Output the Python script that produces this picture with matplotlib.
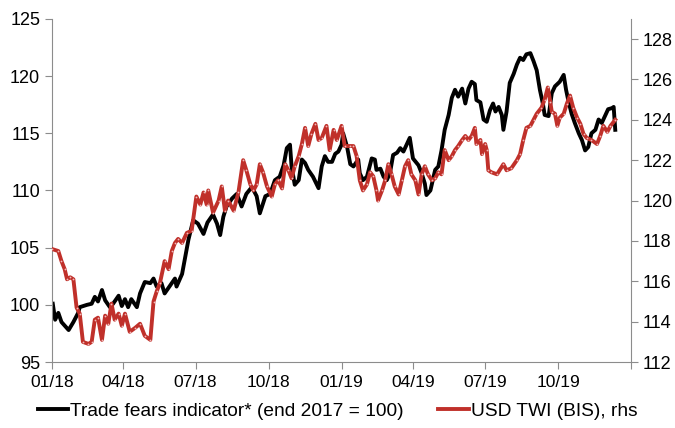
import numpy as np
import pandas as pd
import matplotlib
matplotlib.use("Agg")
import matplotlib.pyplot as plt

plt.rcParams['font.family'] = ['Liberation Sans', 'DejaVu Sans']

start = pd.Timestamp('2018-01-01')

# Trade fears indicator (lhs), days since 01/01/2018
tf_days = [1, 4, 8, 12, 21, 27, 33, 35, 44, 50, 54, 58, 63, 67, 73, 77, 84, 88, 92, 96,
           100, 107, 111, 117, 124, 128, 132, 138, 142, 149, 155, 157, 164, 168, 172, 178,
           184, 191, 196, 203, 208, 212, 216, 220, 227, 233, 239, 245, 252, 258, 262, 269,
           275, 281, 287, 292, 296, 300, 302, 306, 311, 315, 319, 323, 329, 336, 340, 344,
           348, 353, 357, 361, 365, 367, 372, 376, 380, 386, 388, 392, 397, 403, 407, 409,
           414, 418, 422, 426, 430, 435, 439, 443, 447, 451, 455, 462, 466, 470, 472, 477,
           483, 487, 491, 495, 500, 504, 508, 512, 517, 521, 525, 529, 533, 535, 540, 544,
           548, 552, 556, 559, 563, 567, 569, 573, 577, 582, 586, 590, 594, 598, 603, 607,
           611, 615, 619, 621, 626, 630, 634, 640, 645, 648, 651, 655, 659, 664, 668, 672,
           676, 680, 685, 689, 693, 697, 701, 706, 708, 710]
tf_vals = [100.1, 98.7, 99.3, 98.5, 97.8, 98.5, 99.3, 99.8, 100.0, 100.1, 100.7, 100.3,
           101.3, 100.4, 99.8, 100.1, 100.8, 99.9, 100.5, 99.8, 100.5, 99.8, 101.0, 102.0,
           101.9, 102.3, 101.6, 101.9, 101.0, 101.7, 102.3, 101.6, 102.7, 104.2, 105.7,
           107.4, 107.1, 106.2, 107.2, 107.9, 107.1, 106.1, 107.7, 108.6, 109.3, 109.7,
           108.6, 109.7, 110.3, 109.5, 108.0, 109.5, 109.7, 110.9, 111.2, 112.2, 113.7,
           114.0, 112.1, 110.5, 110.9, 112.7, 112.4, 111.8, 111.2, 110.2, 112.1, 113.0,
           112.5, 112.5, 113.2, 113.4, 114.0, 115.0, 113.8, 112.3, 112.1, 112.7, 111.5,
           110.9, 111.2, 112.8, 112.7, 111.8, 111.9, 111.2, 110.9, 111.5, 113.1, 113.3,
           113.7, 113.4, 114.0, 114.6, 112.8, 112.2, 111.5, 110.6, 109.6, 110.0, 111.8,
           112.1, 113.5, 115.3, 116.6, 118.1, 118.8, 118.2, 118.9, 117.6, 118.9, 119.5,
           119.3, 117.9, 117.7, 116.2, 116.0, 117.0, 117.6, 116.9, 117.3, 116.6, 115.3,
           116.9, 119.4, 120.2, 121.0, 121.6, 121.4, 121.9, 122.0, 121.3, 120.5, 118.8,
           117.5, 116.6, 116.5, 118.5, 119.1, 119.5, 120.1, 118.8, 117.8, 116.7, 115.9,
           115.0, 114.4, 113.5, 113.8, 115.0, 115.3, 116.2, 115.9, 116.5, 117.1, 117.2,
           117.3, 115.3]

# USD TWI (BIS), rhs
twi_days = [0, 8, 12, 16, 19, 23, 27, 31, 35, 39, 46, 50, 54, 58, 63, 67, 71, 75, 79, 84,
            88, 92, 98, 105, 111, 117, 124, 128, 132, 136, 142, 147, 151, 155, 159, 164,
            170, 176, 182, 187, 191, 195, 197, 203, 210, 214, 218, 222, 229, 235, 241, 245,
            250, 254, 258, 262, 266, 271, 277, 281, 285, 290, 294, 298, 302, 306, 311, 315,
            319, 323, 327, 332, 336, 340, 346, 350, 355, 359, 365, 369, 376, 380, 384, 388,
            392, 397, 401, 405, 409, 411, 416, 420, 424, 428, 432, 437, 441, 445, 449, 453,
            458, 462, 466, 470, 474, 479, 483, 487, 491, 495, 500, 504, 508, 512, 517, 521,
            525, 529, 533, 535, 540, 542, 546, 548, 550, 554, 561, 569, 573, 579, 586, 590,
            594, 598, 603, 607, 611, 617, 621, 625, 628, 630, 634, 637, 640, 645, 649, 653,
            657, 662, 666, 670, 674, 680, 687, 691, 695, 700, 704, 710]
twi_vals = [117.6, 117.5, 117.0, 116.6, 116.1, 116.2, 116.1, 114.7, 114.4, 113.0, 112.9,
            113.0, 114.1, 114.2, 113.1, 114.3, 113.9, 114.9, 114.1, 114.4, 113.8, 114.4,
            113.5, 113.7, 113.9, 113.3, 113.1, 115.0, 115.5, 115.9, 117.0, 116.6, 117.5,
            117.9, 118.1, 117.9, 118.4, 118.5, 120.2, 119.8, 120.4, 119.8, 120.5, 119.4,
            120.0, 120.7, 119.5, 120.0, 119.5, 120.4, 122.0, 121.5, 120.8, 120.5, 120.8,
            121.8, 121.4, 120.7, 120.2, 120.8, 121.0, 120.6, 121.8, 121.5, 121.1, 121.7,
            122.2, 122.8, 123.6, 122.7, 123.3, 123.8, 123.0, 123.1, 123.7, 122.5, 123.5,
            123.0, 123.7, 122.7, 122.7, 122.7, 122.2, 121.0, 120.5, 120.8, 121.4, 121.2,
            120.5, 120.0, 120.5, 121.0, 121.8, 121.3, 120.7, 120.3, 121.0, 121.7, 122.0,
            121.3, 121.0, 120.3, 121.3, 121.7, 121.3, 121.0, 121.1, 121.4, 121.3, 122.5,
            122.0, 122.2, 122.5, 122.7, 123.0, 123.2, 123.0, 123.2, 123.6, 122.8, 123.0,
            122.3, 122.8, 122.5, 121.5, 121.4, 121.3, 121.8, 121.5, 121.6, 122.0, 122.3,
            123.0, 123.6, 123.7, 124.0, 124.3, 124.6, 125.0, 125.6, 124.9, 124.4, 124.3,
            123.7, 124.1, 124.3, 124.8, 125.2, 124.6, 124.1, 123.8, 123.3, 123.1, 123.0,
            122.8, 123.2, 123.7, 123.4, 123.7, 124.0]

tick_dates = pd.date_range('2018-01-01', '2020-01-01', freq='QS')
tick_labels = ['01/18', '04/18', '07/18', '10/18', '01/19', '04/19', '07/19', '10/19', '']

tf_dates = start + pd.to_timedelta(tf_days, unit='D')
twi_dates = start + pd.to_timedelta(twi_days, unit='D')

grey = '#8c8c8c'
red = '#c0302a'

fig = plt.figure(figsize=(6.75, 4.28), dpi=100)
ax = fig.add_axes([0.077, 0.154, 0.858, 0.802])
ax2 = ax.twinx()

ax.plot(tf_dates, tf_vals, color='black', lw=2.8,
        label='Trade fears indicator* (end 2017 = 100)')
ax2.plot(twi_dates, twi_vals, color=red, lw=2.8, marker='o', markersize=1.3,
         markerfacecolor='#f0b8b8', markeredgewidth=0,
         label='USD TWI (BIS), rhs')

ax.set_xlim(tick_dates[0], tick_dates[-1])
ax.set_ylim(95, 125)
ax.set_yticks(np.arange(95, 126, 5))
ax2.set_ylim(112, 129)
ax2.set_yticks(np.arange(112, 129, 2))
ax.set_xticks(tick_dates)
ax.set_xticklabels(tick_labels)

for a in (ax, ax2):
    a.spines['top'].set_visible(False)
    for s in ('left', 'right', 'bottom'):
        a.spines[s].set_color(grey)
    a.tick_params(colors=grey, labelcolor='black', labelsize=13, length=5,
                  direction='out')
ax.tick_params(axis='x', labelsize=12.5, pad=4)
ax.spines['right'].set_visible(False)
ax2.spines['left'].set_visible(False)
ax2.spines['bottom'].set_visible(False)

h1, l1 = ax.get_legend_handles_labels()
h2, l2 = ax2.get_legend_handles_labels()
fig.legend(h1 + h2, l1 + l2, loc='center', bbox_to_anchor=(0.5, 0.04), ncol=2,
           frameon=False, fontsize=13.8, handlelength=1.6, handletextpad=0.1,
           columnspacing=1.8, markerscale=0.01)

fig.savefig('out.png', dpi=100)
